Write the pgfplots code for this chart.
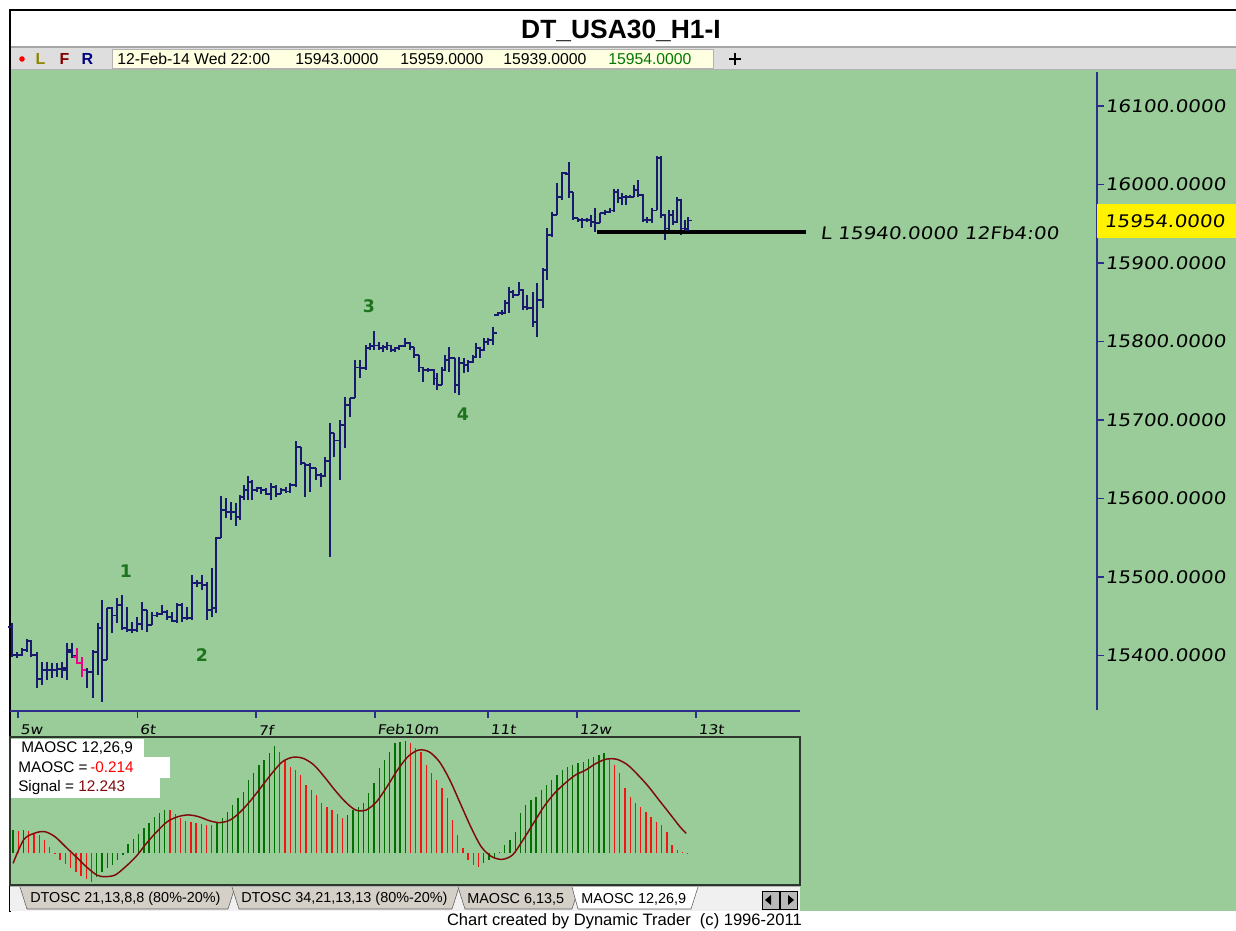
\documentclass[border=0pt]{standalone}
\usepackage{pgfplots}
\pgfplotsset{compat=1.18}
\usepackage{pgfplotstable}
\usepackage{fontspec}
\setmainfont{Liberation Sans}
\newfontfamily\dtfont{DejaVu Sans}[FakeSlant=0.12,FakeStretch=1.15]
\newfontfamily\wavefont{DejaVu Sans}
\definecolor{bgg}{RGB}{153,204,153}
\definecolor{barcol}{RGB}{25,25,110}
\definecolor{axiscol}{RGB}{45,45,140}
\definecolor{wavecol}{RGB}{30,115,30}
\definecolor{hgreen}{RGB}{0,110,0}
\definecolor{hred}{RGB}{245,20,20}
\definecolor{sigcol}{RGB}{128,10,10}
\definecolor{tbgray}{RGB}{222,222,222}
\definecolor{cream}{RGB}{255,255,225}
\definecolor{tabgray}{RGB}{212,208,200}
\definecolor{oscbox}{RGB}{45,55,45}
\pgfdeclareplotmark{otick}{\pgfpathmoveto{\pgfqpoint{-2.7pt}{0pt}}\pgfpathlineto{\pgfqpoint{0pt}{0pt}}\pgfusepathqstroke}
\pgfdeclareplotmark{ctick}{\pgfpathmoveto{\pgfqpoint{0pt}{0pt}}\pgfpathlineto{\pgfqpoint{2.7pt}{0pt}}\pgfusepathqstroke}

\pgfplotstableread{
x o h l c
12 15436 15441 15398 15401
17 15401 15404 15397 15401
22 15401 15409 15399 15407
27 15407 15421 15404 15418
31 15418 15420 15398 15401
37 15401 15404 15358 15370
42 15370 15392 15362 15381
47 15381 15392 15369 15381
52 15381 15390 15371 15381
57 15381 15390 15372 15383
62 15383 15392 15371 15381
67 15384 15416 15369 15404
72 15407 15416 15397 15399
87 15381 15384 15358 15379
93 15379 15407 15346 15404
98 15404 15441 15375 15435
102 15435 15471 15341 15394
107 15394 15460 15394 15460
112 15460 15462 15429 15451
117 15451 15473 15441 15464
122 15464 15477 15432 15435
127 15435 15462 15430 15432
132 15432 15443 15429 15432
137 15432 15449 15430 15440
142 15440 15468 15432 15458
147 15458 15458 15430 15439
152 15439 15455 15439 15451
157 15451 15455 15449 15453
162 15453 15464 15451 15455
167 15455 15458 15445 15449
172 15449 15455 15443 15444
177 15444 15467 15441 15464
182 15464 15467 15443 15448
187 15448 15462 15445 15448
192 15448 15502 15445 15492
197 15492 15496 15487 15492
202 15492 15502 15483 15490
207 15490 15494 15445 15458
212 15458 15511 15449 15460
216 15460 15551 15454 15550
221 15550 15603 15550 15585
226 15585 15601 15575 15583
231 15583 15595 15573 15583
236 15583 15594 15565 15576
240 15576 15604 15573 15602
244 15602 15617 15598 15611
248 15611 15629 15598 15621
252 15621 15623 15598 15611
257 15611 15615 15608 15613
261 15613 15615 15606 15611
266 15611 15613 15604 15606
271 15606 15620 15598 15615
276 15615 15617 15602 15606
281 15606 15613 15606 15611
286 15611 15615 15607 15609
290 15609 15620 15607 15617
296 15617 15673 15615 15666
301 15666 15666 15643 15645
305 15645 15645 15602 15643
310 15643 15645 15608 15639
316 15639 15639 15623 15630
321 15630 15632 15615 15629
325 15629 15653 15627 15648
330 15648 15696 15525 15683
334 15683 15683 15653 15674
340 15674 15700 15623 15694
345 15694 15729 15664 15719
350 15719 15728 15704 15728
355 15728 15776 15728 15767
360 15767 15776 15753 15766
366 15766 15795 15764 15792
370 15792 15798 15789 15794
374 15794 15813 15789 15795
379 15795 15799 15789 15792
383 15792 15795 15787 15793
387 15793 15799 15789 15795
391 15795 15796 15787 15789
395 15789 15793 15787 15792
399 15792 15795 15789 15794
405 15794 15804 15793 15798
410 15798 15799 15789 15793
414 15793 15793 15779 15783
419 15783 15783 15761 15767
423 15767 15767 15748 15764
428 15764 15766 15761 15764
434 15764 15765 15745 15753
437 15753 15760 15738 15745
442 15745 15767 15745 15764
445 15764 15783 15762 15776
449 15776 15793 15761 15779
455 15779 15779 15734 15745
459 15745 15780 15732 15773
464 15773 15779 15760 15770
468 15770 15776 15761 15774
473 15774 15783 15773 15780
476 15780 15798 15780 15792
480 15792 15793 15779 15789
484 15789 15804 15788 15799
488 15799 15804 15795 15802
493 15802 15818 15795 15811
498 15834 15838 15833 15836
502 15836 15840 15834 15836
505 15836 15853 15836 15849
509 15849 15869 15836 15863
513 15863 15866 15855 15859
519 15859 15876 15859 15866
523 15866 15867 15840 15844
527 15844 15859 15840 15843
533 15843 15863 15818 15825
537 15825 15874 15806 15853
543 15853 15894 15843 15891
547 15891 15944 15878 15936
552 15936 15965 15933 15961
557 15961 16002 15961 15984
562 15984 16016 15980 16015
566 16015 16016 16012 16013
569 16013 16029 15983 15990
573 15990 15990 15955 15957
578 15957 15957 15952 15955
582 15955 15957 15944 15955
587 15955 15957 15952 15955
591 15955 15961 15946 15952
595 15952 15970 15939 15951
600 15951 15964 15951 15964
605 15964 15967 15961 15965
610 15965 15970 15964 15967
614 15967 15994 15965 15990
618 15990 15994 15976 15983
622 15983 15989 15974 15984
626 15984 15987 15974 15984
630 15984 15987 15983 15984
634 15984 15999 15984 15993
638 15993 16006 15984 15987
643 15987 15988 15952 15955
647 15955 15959 15951 15955
652 15955 15970 15951 15967
657 15967 16036 15967 16034
661 16034 16036 15957 15961
665 15961 15962 15929 15944
669 15944 15967 15942 15961
673 15961 15967 15948 15952
677 15952 15984 15951 15980
681 15980 15982 15936 15944
685 15944 15955 15939 15942
688 15943 15959 15939 15954
}\ohlc

\pgfplotstableread{
x o h l c
77 15398 15409 15389 15390
82 15390 15398 15372 15381
}\ohlcm

\begin{document}
\begin{tikzpicture}
\begin{scope}[x=0.75pt,y=-0.75pt]
\useasboundingbox (0,0) rectangle (1236,931);
\fill[white] (0,0) rectangle (1236,931);
\fill[bgg] (10,69) rectangle (1236,911);
% title bar
\node[font=\bfseries\fontsize{19.8}{23}\selectfont] at (621,31) {DT\_USA30\_H1-I};
\fill[tbgray] (10,47) rectangle (1236,69);
\draw[gray!70,line width=0.8pt] (10,47) -- (1236,47);
\draw[gray!60] (10,69) -- (1236,69);
\fill[red] (22,59) circle (2.8);
\node[anchor=west,font=\bfseries\fontsize{12}{14}\selectfont,text=olive] at (31,59) {L};
\node[anchor=west,font=\bfseries\fontsize{12}{14}\selectfont,text={rgb,255:red,128;green,0;blue,0}] at (55,59) {F};
\node[anchor=west,font=\bfseries\fontsize{12}{14}\selectfont,text={rgb,255:red,0;green,0;blue,128}] at (77,59) {R};
\filldraw[fill=cream,draw=gray!60] (112,49) rectangle (713,68);
\begin{scope}[font=\fontsize{11.8}{14}\selectfont]
\node[anchor=west,inner sep=0] at (117,59) {12-Feb-14 Wed 22:00};
\node[anchor=west,inner sep=0] at (295,59) {15943.0000};
\node[anchor=west,inner sep=0] at (400,59) {15959.0000};
\node[anchor=west,inner sep=0] at (503,59) {15939.0000};
\node[anchor=west,inner sep=0,text={rgb,255:red,0;green,120;blue,0}] at (608,59) {15954.0000};
\end{scope}
\draw[line width=2.2pt] (729,59) -- (741,59) (735,53) -- (735,65);
% frame
\draw[black,line width=1.5pt] (10,912) -- (10,10) -- (1236,10);
\end{scope}

% ---------- price panel ----------
\begin{axis}[at={(7.5pt,-532.5pt)}, anchor=south west,
  width=815.25pt, height=478.5pt, scale only axis,
  xmin=10, xmax=1097, ymin=15330.5, ymax=16143.3,
  axis x line=none, axis y line*=right,
  scaled y ticks=false,
  y axis line style={axiscol, line width=1.3pt, -},
  ytick={15400,15500,15600,15700,15800,15900,16000,16100},
  yticklabels={15400.0000,15500.0000,15600.0000,15700.0000,15800.0000,15900.0000,16000.0000,16100.0000},
  yticklabel style={font=\dtfont\fontsize{13}{15}\selectfont, anchor=west, inner sep=1pt},
  tick align=outside, major tick length=5pt,
  ytick style={axiscol, line width=1pt},
  clip=false]
\addplot[only marks, mark=otick, barcol, mark options={line width=1.3pt},
  error bars/.cd, y dir=both, y explicit, error mark=none,
  error bar style={barcol, line width=1.3pt}]
  table[x=x, y=o, y error plus expr=\thisrow{h}-\thisrow{o}, y error minus expr=\thisrow{o}-\thisrow{l}] {\ohlc};
\addplot[only marks, mark=ctick, barcol, mark options={line width=1.3pt}] table[x=x, y=c] {\ohlc};
\addplot[only marks, mark=otick, magenta, mark options={line width=1.3pt},
  error bars/.cd, y dir=both, y explicit, error mark=none,
  error bar style={magenta, line width=1.3pt}]
  table[x=x, y=o, y error plus expr=\thisrow{h}-\thisrow{o}, y error minus expr=\thisrow{o}-\thisrow{l}] {\ohlcm};
\addplot[only marks, mark=ctick, magenta, mark options={line width=1.3pt}] table[x=x, y=c] {\ohlcm};
\addplot[black, line width=3pt] coordinates {(597,15940) (806,15940)};
\end{axis}

% ---------- oscillator ----------
\begin{axis}[at={(7.5pt,-663.75pt)}, anchor=south west,
  width=592.5pt, height=111pt, scale only axis,
  xmin=-0.59, xmax=150.46, ymin=-19.4, ymax=71.2,
  ticks=none, axis line style={draw=oscbox, line width=1.5pt}]
\addplot[ycomb, hgreen, line width=1pt] coordinates {
(0,14.3)(2,14.3)(16,-14.5)(17,-11.5)(18,-9.2)(19,-7.0)(20,-4.1)(21,-1.0)(22,5.5)(23,8.5)(24,12.0)(25,15.3)(26,18.5)(27,22.0)(28,24.5)(29,26.8)
(39,19.4)(40,21.4)(41,25.5)(42,29.6)(43,33.7)(44,37.7)(45,44.9)(46,49.0)(47,54.1)(48,57.1)(49,61.2)(50,65.7)
(64,23.5)(65,26.5)(66,28.6)(67,30.6)(68,36.7)(69,42.8)(70,52.0)(71,57.1)(72,62.2)(73,67.3)(74,68.3)(75,69.0)
(90,-6.1)(91,-4.1)(92,-2.0)(93,1.0)(94,5.1)(95,8.2)(96,13.3)(97,24.5)(98,29.6)(99,32.6)(100,34.7)(101,38.8)(102,41.8)(103,44.9)(104,47.9)(105,51.0)(106,53.0)(107,54.1)(108,55.1)(109,56.1)(110,57.5)(111,59.2)(112,60.2)(113,61.6)
};
\addplot[ycomb, hred, line width=1pt] coordinates {
(1,13.8)(3,13.5)(4,12.5)(5,11.0)(6,8.2)(7,4.1)(8,-0.5)(9,-4.0)(10,-6.5)(11,-9.0)(12,-11.5)(13,-14.0)(14,-15.5)(15,-17.3)
(30,26.5)(31,24.0)(32,21.5)(33,20.0)(34,19.0)(35,18.4)(36,18.0)(37,17.5)(38,17.3)
(51,62.2)(52,57.1)(53,53.0)(54,51.0)(55,47.9)(56,41.8)(57,38.8)(58,35.7)(59,30.6)(60,28.6)(61,26.5)(62,24.0)(63,21.4)
(76,67.3)(77,64.3)(78,62.0)(79,54.1)(80,49.0)(81,44.9)(82,39.8)(83,33.7)(84,20.4)(85,11.2)(86,3.1)(87,-4.1)(88,-7.1)(89,-8.2)
(114,58.1)(115,54.1)(116,49.0)(117,39.8)(118,34.7)(119,30.6)(120,28.6)(121,25.5)(122,22.4)(123,19.4)(124,17.3)(125,13.3)(126,5.1)(127,2.0)(128,1.0)(129,-0.214)
};
\addplot[sigcol, line width=1.1pt, smooth] coordinates {
(0,-6.1)(2,8.2)(4,12.2)(6,13.3)(8,10.2)(10,4.1)(12,-2.0)(14,-8.2)(16,-13.3)(17.5,-14.3)(19.5,-13.3)(21.5,-8.2)(23.5,-2.0)(25.5,6.1)(27.5,13.3)(29.5,19.4)(31.5,22.4)(33.5,23.5)(35.5,22.4)(37.5,20.0)(39.5,18.8)(41.5,20.4)(43.5,25.5)(45.5,32.6)(47.5,40.8)(49.5,49.0)(51.5,56.1)(53.5,58.8)(55.5,58.1)(57.5,54.1)(59.5,46.9)(61.5,38.8)(63.5,31.6)(65.5,26.5)(67.5,26.5)(69.5,31.6)(71.5,40.8)(73.5,51.0)(75.5,59.2)(77.5,63.2)(79.5,62.2)(81.5,56.1)(83.5,44.9)(85.5,30.6)(87.5,16.3)(89.5,4.1)(91.5,-2.0)(93.5,-3.7)(95.5,-1.0)(97.5,8.2)(99.5,18.4)(101.5,28.6)(103.5,36.7)(105.5,42.8)(107.5,47.9)(109.5,51.0)(111.5,55.1)(113.5,57.7)(115.5,57.5)(117.5,54.1)(119.5,47.9)(121.5,40.8)(123.5,32.6)(125.5,24.5)(127.5,16.3)(128.7,12.2)
};
\end{axis}

\begin{scope}[x=0.75pt,y=-0.75pt]
% price time axis
\draw[axiscol,line width=1.3pt] (10,711) -- (800,711);
\foreach \tx/\tl in {18/5w,137.5/6t,256/7f,375/Feb10m,488/11t,577/12w,696/13t}{
  \draw[axiscol,line width=1pt] (\tx,711) -- (\tx,718);
  \node[anchor=west,inner sep=0,font=\dtfont\fontsize{10}{12}\selectfont] at (\tx+2,730) {\tl};
}
% level label and current price
\node[anchor=west,inner sep=0,font=\dtfont\fontsize{13}{15}\selectfont] at (820,233) {L 15940.0000 12Fb4:00};
\fill[yellow] (1097,204) rectangle (1236,238);
\node[anchor=west,inner sep=0,font=\dtfont\fontsize{13}{15}\selectfont] at (1104,221) {15954.0000};
% wave labels
\begin{scope}[font=\wavefont\bfseries\fontsize{13}{15}\selectfont,text=wavecol]
\node at (126,571) {1};
\node at (202,655) {2};
\node at (369,306) {3};
\node at (463,414) {4};
\end{scope}
% oscillator legend
\fill[white] (11,739) rectangle (144,757);
\fill[white] (11,757) rectangle (170,778);
\fill[white] (11,778) rectangle (160,798);
\begin{scope}[font=\fontsize{11.5}{13}\selectfont]
\node[anchor=west,inner sep=0] at (21,748) {MAOSC 12,26,9};
\node[anchor=west,inner sep=0] at (18,767) {MAOSC =\,\textcolor{red}{-0.214}};
\node[anchor=west,inner sep=0] at (18,788) {Signal = \textcolor{sigcol}{12.243}};
\end{scope}
% tabs
\fill[gray!12] (10,886) rectangle (800,911);
\draw[gray!60] (10,886) -- (800,886);
\begin{scope}[font=\fontsize{10.8}{13}\selectfont]
\filldraw[fill=tabgray,draw=gray!70!black] (20,887) -- (27,909) -- (228,909) -- (235,887);
\node[anchor=west,inner sep=0] at (30,899) {DTOSC 21,13,8,8 (80\%-20\%)};
\filldraw[fill=tabgray,draw=gray!70!black] (232,887) -- (239,909) -- (452,909) -- (459,887);
\node[anchor=west,inner sep=0] at (241,899) {DTOSC 34,21,13,13 (80\%-20\%)};
\filldraw[fill=tabgray,draw=gray!70!black] (458,887) -- (465,909) -- (572,909) -- (579,887);
\node[anchor=west,inner sep=0] at (467,899) {MAOSC 6,13,5};
\filldraw[fill=white,draw=gray!70!black] (572,887) -- (578,909) -- (691,909) -- (698,887);
\node[anchor=west,inner sep=0] at (581,899) {MAOSC 12,26,9};
\end{scope}
\filldraw[fill=gray!55,draw=black] (762,891) rectangle (779,909);
\filldraw[fill=gray!55,draw=black] (780,891) rectangle (797,909);
\fill[black] (765,900) -- (771,895) -- (771,905) -- cycle;
\fill[black] (794,900) -- (788,895) -- (788,905) -- cycle;
% credit
\node[anchor=east,inner sep=0,font=\fontsize{12.4}{14}\selectfont] at (802,921) {Chart created by Dynamic Trader\ \ (c) 1996-2011};
\end{scope}
\end{tikzpicture}
\end{document}
